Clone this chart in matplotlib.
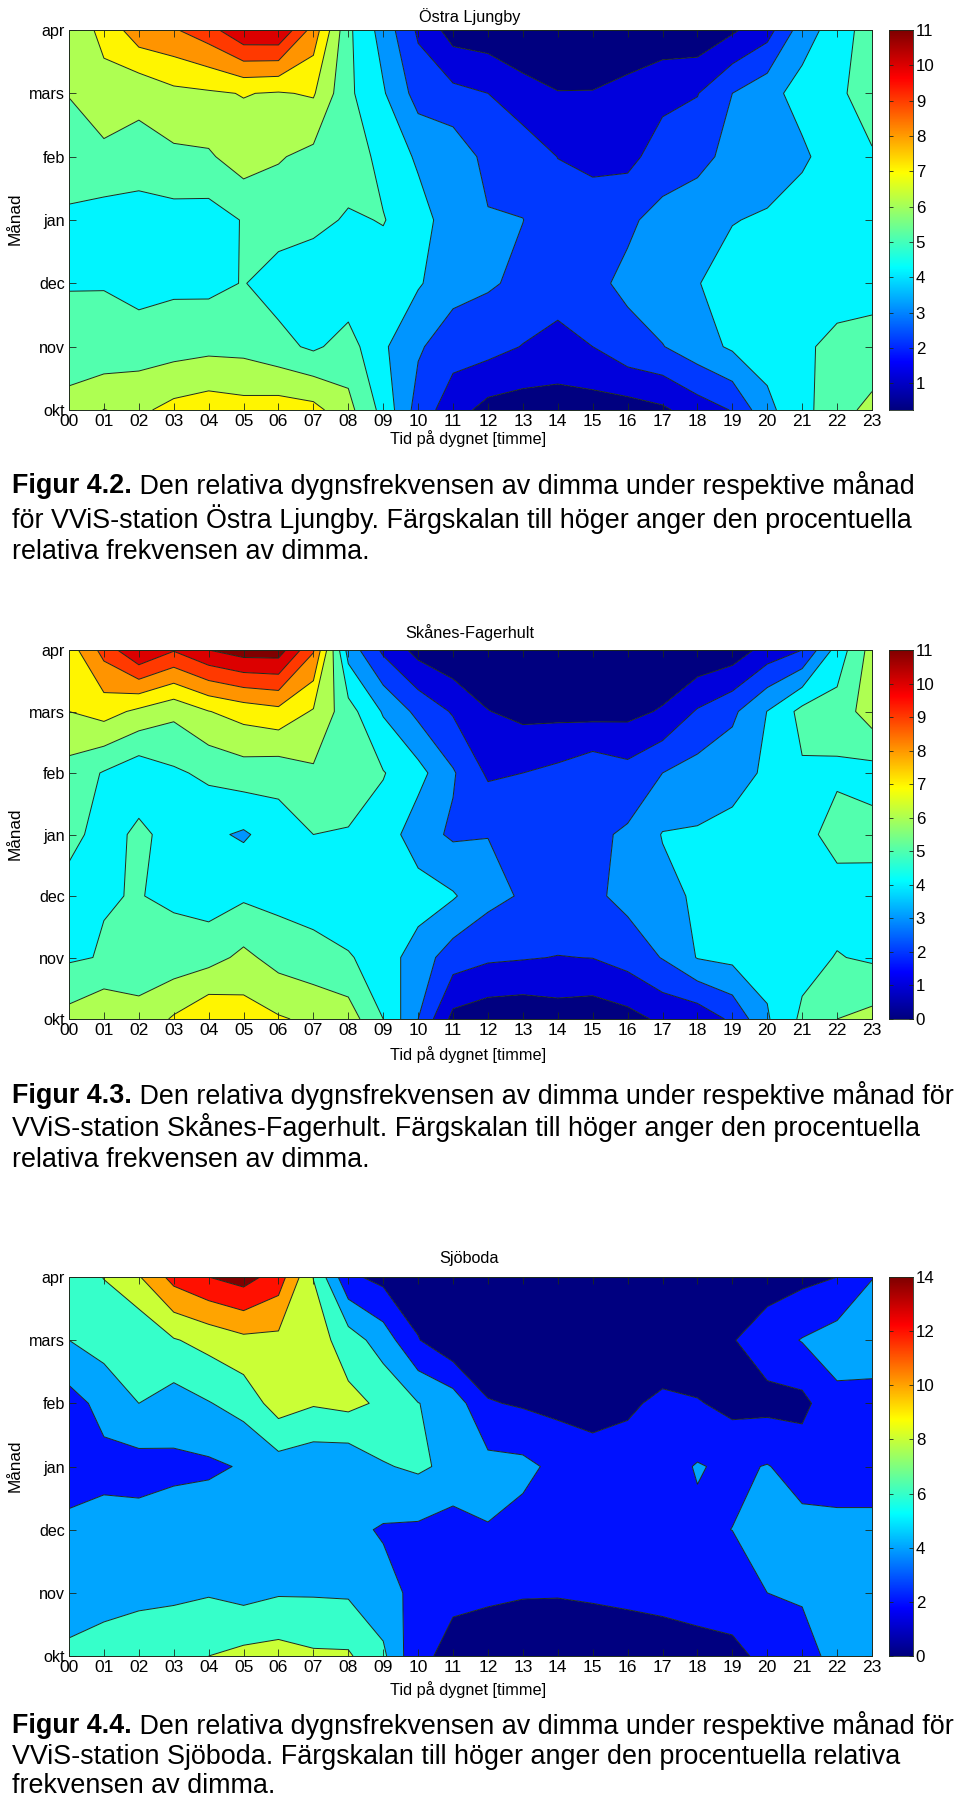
import numpy as np
import matplotlib
matplotlib.use("Agg")
import matplotlib.pyplot as plt
from matplotlib.colors import LinearSegmentedColormap

plt.rcParams['font.family'] = ['Liberation Sans', 'DejaVu Sans']

W, H = 960, 1798
hours = [f"{h:02d}" for h in range(24)]
months = ["okt", "nov", "dec", "jan", "feb", "mars", "apr"]

# one inner list per hour, values okt..apr
ljungby = [
    [6.4,5.35,4.95,4.8,5.6,6.03,6.5],[7.02,5.23,4.97,4.6,5.7,6.75,7.2],
    [6.8,5.5,4.64,4.4,5.7,6.22,8.66],[7.31,5.59,4.8,4.6,5.8,6.75,8.9],
    [7.55,5.73,4.76,4.55,5.87,6.87,9.6],[7.39,5.69,5.04,5.06,6.51,7.04,10.9],
    [7.51,5.29,4.6,5.4,6.08,6.92,10.95],[7.33,4.83,4.2,5.33,5.73,7.1,8.6],
    [6.3,5.42,4.34,4.87,5.55,5.2,5.2],[4.68,4.15,4.5,5.05,4.7,4.1,3.6],
    [2.58,3.13,4.1,4.4,3.85,2.6,1.84],[1.42,2.42,3.39,3.5,3.64,2.28,.55],
    [.66,2.36,3.11,3.08,2.7,2.0,.41],[.51,1.96,2.8,3.01,2.7,1.3,.36],
    [.59,1.59,2.57,2.6,1.98,1.03,.3],[.53,2.0,2.8,2.5,1.76,1.04,.25],
    [.55,2.68,3.19,2.85,1.7,1.3,.3],[.83,2.96,3.7,3.3,2.49,1.71,.37],
    [1.5,3.58,3.95,3.6,2.7,1.96,.28],[2.05,4.15,4.5,3.95,3.3,3.0,.85],
    [3.75,4.4,4.6,4.15,3.35,3.65,1.6],[4.7,4.75,4.7,4.6,3.8,4.4,3.5],
    [5.6,5.4,4.32,4.5,4.6,4.8,4.5],[6.3,5.27,4.73,4.6,4.9,5.5,5.5],
]
fagerhult = [
    [6.36,4.87,4.5,5.4,5.61,7.0,7.5],[6.9,5.06,4.96,4.5,4.92,7.4,9.35],
    [6.3,5.5,5.03,5.25,4.3,6.78,11.02],[7.12,5.4,4.85,4.6,4.85,6.23,10.08],
    [7.92,5.62,4.55,4.2,5.2,6.97,11.0],[7.49,6.24,4.85,3.87,5.5,7.4,11.5],
    [7.1,5.63,4.7,4.5,5.37,7.7,11.5],[6.8,5.37,4.55,5.0,5.84,6.9,9.1],
    [6.5,5.1,4.2,4.93,5.5,5.4,3.6],[5.0,4.5,4.7,4.6,5.05,3.9,1.8],
    [3.0,3.5,4.5,3.4,4.35,2.73,.66],[.7,2.5,4.1,2.85,3.1,1.9,.2],
    [.37,2.16,3.3,2.98,1.84,1.03,.15],[.3,2.07,2.9,2.65,2.0,.73,.1],
    [.5,1.97,2.8,2.6,2.25,.72,.1],[.38,2.02,2.8,2.8,2.73,.65,.1],
    [.65,2.4,3.3,3.14,2.36,.72,.1],[1.2,3.05,3.7,4.05,3.0,1.1,.1],
    [1.3,4.05,4.15,4.1,3.4,2.1,.14],[2.2,4.25,4.6,4.3,3.63,2.79,.4],
    [3.9,4.3,4.65,4.35,4.15,4.02,1.4],[5.2,4.66,4.6,4.7,4.88,5.3,2.0],
    [6.0,5.05,4.6,5.35,4.85,5.4,4.4],[6.3,4.86,4.6,5.34,4.62,6.53,6.4],
]
sjoboda = [
    [6.4,5.0,4.5,3.0,3.2,6.0,7.0],[7.17,5.0,4.7,3.43,4.64,6.8,8.05],
    [7.5,5.4,4.8,3.2,6.0,6.2,9.85],[7.6,5.6,5.0,3.55,5.1,7.85,12.7],
    [8.0,5.85,5.3,3.65,5.9,8.66,14.0],[8.54,5.37,5.2,4.17,6.75,9.5,14.85],
    [8.77,5.83,5.3,5.08,8.93,9.48,13.04],[8.3,5.83,5.2,4.6,8.18,9.0,7.95],
    [8.25,5.75,4.5,4.5,8.55,7.0,2.38],[6.4,4.7,3.8,5.85,7.63,5.04,1.43],
    [2.3,3.45,3.65,6.32,6.05,2.1,.8],[1.63,2.23,3.1,5.5,5.1,.4,.3],
    [1.3,2.2,3.91,4.65,2.15,.3,.2],[1.1,2.1,3.33,4.5,1.78,.3,.2],
    [.9,2.1,3.2,3.5,1.45,.3,.2],[1.0,2.2,3.0,3.2,.94,.3,.2],
    [.9,2.4,3.2,3.0,1.63,.4,.2],[1.0,2.6,3.4,3.2,2.48,.4,.2],
    [1.1,3.0,3.64,4.14,2.15,.4,.2],[1.7,2.6,4.02,3.6,1.44,1.88,.2],
    [2.3,4.0,4.6,4.1,1.4,3.07,1.05],[3.3,4.2,4.6,3.14,1.45,4.1,1.5],
    [4.6,4.4,4.5,3.07,3.5,4.9,2.0],[4.5,4.5,4.5,3.07,3.36,5.0,3.95],
]

panels = [
    dict(title="Östra Ljungby", data=ljungby, vmin=0.25, vmax=11, cmin=0, lines=list(range(1, 11)),
         cticks=list(range(1, 12)), box=(69, 872, 30, 410), title_y=17, xlab_y=439),
    dict(title="Skånes-Fagerhult", data=fagerhult, vmin=0, vmax=11, cmin=0, lines=list(range(1, 12)),
         cticks=list(range(0, 12)), box=(69, 872, 650, 1019), title_y=633, xlab_y=1055),
    dict(title="Sjöboda", data=sjoboda, vmin=0, vmax=14, cmin=0, lines=list(range(2, 15, 2)),
         cticks=list(range(0, 15, 2)), box=(69, 872, 1277, 1656), title_y=1259, xlab_y=1690),
]
captions = [
    ("Figur 4.2.", [" Den relativa dygnsfrekvensen av dimma under respektive månad",
                    "för VViS-station Östra Ljungby. Färgskalan till höger anger den procentuella",
                    "relativa frekvensen av dimma."], [486, 519, 552]),
    ("Figur 4.3.", [" Den relativa dygnsfrekvensen av dimma under respektive månad för",
                    "VViS-station Skånes-Fagerhult. Färgskalan till höger anger den procentuella",
                    "relativa frekvensen av dimma."], [1096, 1128, 1160]),
    ("Figur 4.4.", [" Den relativa dygnsfrekvensen av dimma under respektive månad för",
                    "VViS-station Sjöboda. Färgskalan till höger anger den procentuella relativa",
                    "frekvensen av dimma."], [1726, 1757, 1786]),
]

XTICK_PT = 12.6
YTICK_PT = 11.6
CBAR_PT = 12.2
LABEL_PT = 11.7
CAP_PT = 19.4
LINE = "#1c2a1c"

fig = plt.figure(figsize=(W / 100, H / 100), dpi=100, facecolor="white")
jet = LinearSegmentedColormap("mjet", {
    "red": [(0, 0, 0), (.375, 0, 0), (.625, 1, 1), (.875, 1, 1), (1, .5, .5)],
    "green": [(0, 0, 0), (.125, 0, 0), (.375, 1, 1), (.625, 1, 1), (.875, 0, 0), (1, 0, 0)],
    "blue": [(0, .5, .5), (.125, 1, 1), (.375, 1, 1), (.625, 0, 0), (1, 0, 0)],
}, N=256)

def px_axes(x0, x1, y0, y1):
    return fig.add_axes([x0 / W, 1 - y1 / H, (x1 - x0) / W, (y1 - y0) / H])

def px_text(x, y, s, **kw):
    return fig.text(x / W, 1 - y / H, s, **kw)

for p in panels:
    x0, x1, y0, y1 = p["box"]
    ax = px_axes(x0, x1, y0, y1)
    z = np.array(p["data"]).T
    xs = np.arange(len(hours))
    ys = np.arange(len(months))
    lines = p["lines"]
    step = lines[1] - lines[0]
    levels = [-5] + lines + [lines[-1] + 5 * step]
    norm = lambda v: (v - p["cmin"]) / (p["vmax"] - p["cmin"])
    colors = [jet(0.0)] + [jet(norm(v)) for v in lines]
    ax.contourf(xs, ys, z, levels=levels, colors=colors, antialiased=True)
    ax.contour(xs, ys, z, levels=lines, colors=LINE, linewidths=0.7)
    ax.set_xlim(0, 23)
    ax.set_ylim(0, 6)
    ax.set_xticks(xs)
    ax.set_xticklabels(hours, fontsize=XTICK_PT)
    ax.set_yticks(ys)
    ax.set_yticklabels(months, fontsize=YTICK_PT)
    ax.tick_params(axis="both", direction="in", length=5, width=0.6, top=True, right=True, color=LINE)
    ax.tick_params(axis="x", pad=3)
    ax.tick_params(axis="y", pad=3)
    for s in ax.spines.values():
        s.set_linewidth(0.7)
        s.set_color(LINE)
    xc = (x0 + x1) / 2 - 1
    px_text(xc, p["title_y"], p["title"], fontsize=LABEL_PT, ha="center", va="center")
    px_text(xc - 1, p["xlab_y"], "Tid på dygnet [timme]", fontsize=LABEL_PT, ha="center", va="center")
    px_text(15, (y0 + y1) / 2 - 1, "Månad", fontsize=LABEL_PT + 0.6, rotation=90, ha="center", va="center")

    cax = px_axes(889, 913, y0, y1)
    cax.imshow(np.linspace(0, 1, 256)[:, None], cmap=jet, aspect="auto", origin="lower",
               extent=[0, 1, p["vmin"], p["vmax"]])
    cax.set_xticks([])
    cax.set_yticks(p["cticks"])
    cax.yaxis.tick_right()
    cax.tick_params(axis="y", direction="in", length=3, width=0.6, left=True, right=True,
                    labelsize=CBAR_PT, pad=2, color=LINE)
    for s in cax.spines.values():
        s.set_linewidth(0.6)
        s.set_color(LINE)

fig.canvas.draw()
renderer = fig.canvas.get_renderer()
for bold, rest, ypos in captions:
    t = px_text(12, ypos[0], bold, fontsize=CAP_PT, fontweight="bold", ha="left", va="center")
    bb = t.get_window_extent(renderer)
    px_text(bb.x1, ypos[0], rest[0], fontsize=CAP_PT, ha="left", va="center")
    for line, y in zip(rest[1:], ypos[1:]):
        px_text(12, y, line, fontsize=CAP_PT, ha="left", va="center")

fig.savefig("out.png", dpi=100, facecolor="white")
